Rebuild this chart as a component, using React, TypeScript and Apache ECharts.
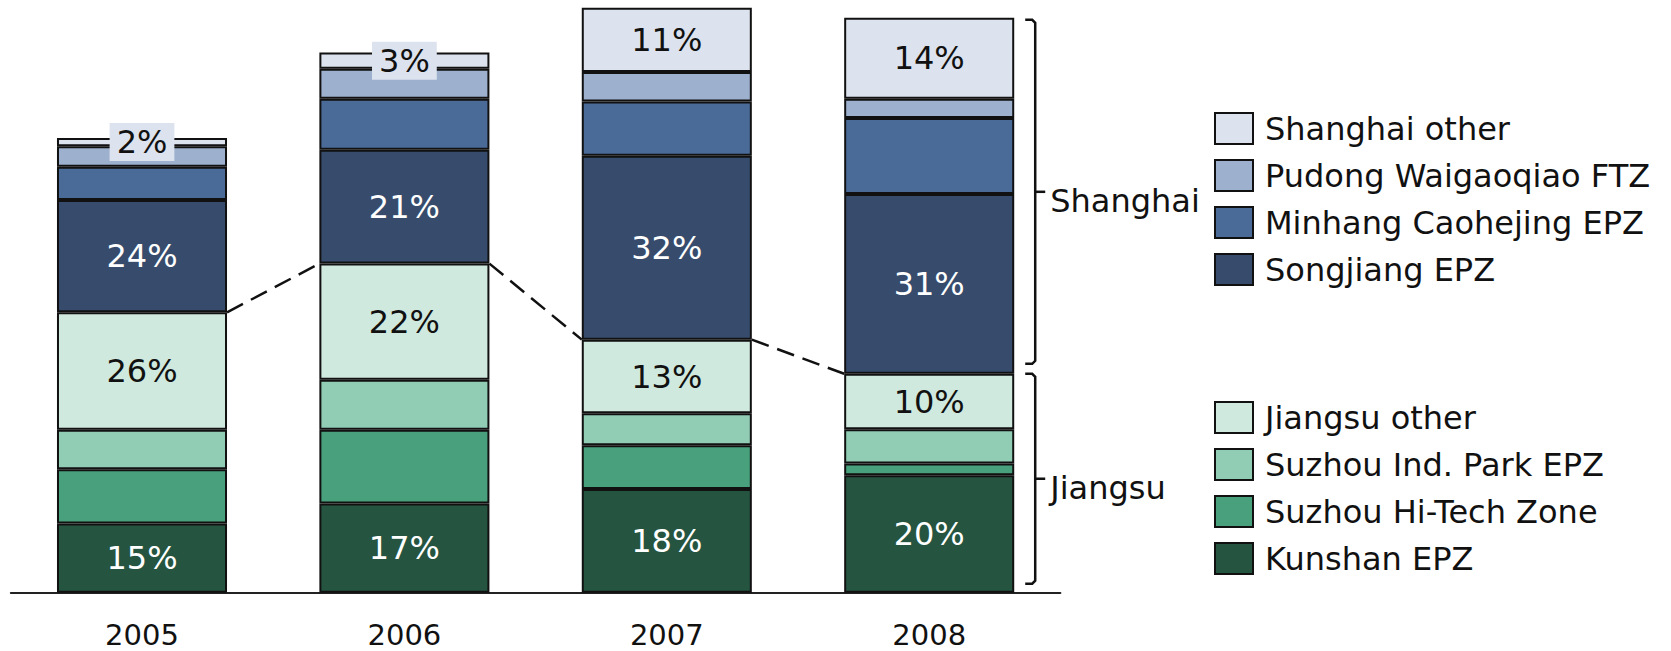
import React, { useEffect, useRef } from "react";
import * as echarts from "echarts";

const years = ["2005", "2006", "2007", "2008"];

// Absolute volumes (index, 2005 total ≈ 100)
const kunshan = [15.2, 19.6, 22.8, 25.8];
const suzhouHiTech = [11.9, 16.2, 9.6, 2.6];
const suzhouIndPark = [8.7, 11.0, 7.0, 7.5];
const jiangsuOther = [25.8, 25.5, 16.2, 12.2];
const songjiang = [24.7, 25.0, 40.4, 39.5];
const minhang = [7.3, 11.2, 11.9, 16.7];
const pudong = [4.5, 6.6, 6.5, 4.2];
const shanghaiOther = [1.8, 3.6, 14.1, 17.8];

// Share labels printed on the bars (%)
const kunshanPct = [15, 17, 18, 20];
const jiangsuOtherPct = [26, 22, 13, 10];
const songjiangPct = [24, 21, 32, 31];
const shanghaiOtherPct = [2, 3, 11, 14];

const shanghaiLegend = ["Shanghai other", "Pudong Waigaoqiao FTZ", "Minhang Caohejing EPZ", "Songjiang EPZ"];
const jiangsuLegend = ["Jiangsu other", "Suzhou Ind. Park EPZ", "Suzhou Hi-Tech Zone", "Kunshan EPZ"];

const FONT = "DejaVu Sans";
const INK = "#111111";
const BAR_RATIO = 0.648;

const COLORS = {
  kunshan: "#255441",
  hitech: "#48a07c",
  indpark: "#90cdb4",
  jother: "#d0e9de",
  songjiang: "#374c6d",
  minhang: "#4a6a98",
  pudong: "#9db0ce",
  shother: "#dde3ee",
};

function barSeries(name: string, data: number[], color: string, labels: number[] | null, labelColor: string, bg?: string) {
  return {
    type: "bar",
    name,
    stack: "total",
    data,
    barWidth: BAR_RATIO * 100 + "%",
    itemStyle: { color, borderColor: INK, borderWidth: 2 },
    label: labels
      ? {
          show: true,
          position: "inside",
          formatter: (p: any) => labels[p.dataIndex] + "%",
          fontFamily: FONT,
          fontSize: 32,
          color: labelColor,
          backgroundColor: bg,
          padding: bg ? [3, 7] : 0,
        }
      : { show: false },
    emphasis: { disabled: true },
  };
}

export default function App() {
  const ref = useRef<HTMLDivElement>(null);

  useEffect(() => {
    if (!ref.current) return;
    const chart = echarts.init(ref.current, null, { renderer: "svg" });

    const jiangsuTotals = years.map((_, i) => kunshan[i] + suzhouHiTech[i] + suzhouIndPark[i] + jiangsuOther[i]);
    const connectors = years.slice(0, -1).map((_, i) => [i, jiangsuTotals[i], jiangsuTotals[i + 1]]);

    const legendCommon = {
      orient: "vertical",
      left: 1214,
      itemWidth: 38,
      itemHeight: 31,
      itemGap: 14,
      padding: 0,
      icon: "rect",
      selectedMode: false,
      itemStyle: { borderColor: INK, borderWidth: 2 },
      textStyle: { fontFamily: FONT, fontSize: 32, color: INK, padding: [0, 0, 0, 7] },
    };

    chart.setOption({
      animation: false,
      textStyle: { fontFamily: FONT },
      grid: { left: 10.8, right: 610.6, top: 1, bottom: 58.3, containLabel: false },
      legend: [
        { ...legendCommon, top: 112, data: shanghaiLegend },
        { ...legendCommon, top: 401, data: jiangsuLegend },
      ],
      xAxis: {
        type: "category",
        data: years,
        axisLine: { lineStyle: { color: "#222", width: 2 } },
        axisTick: { show: false },
        axisLabel: { fontFamily: FONT, fontSize: 29, color: INK, margin: 28 },
      },
      yAxis: { type: "value", min: 0, max: 130, show: false, splitLine: { show: false } },
      series: [
        barSeries("Kunshan EPZ", kunshan, COLORS.kunshan, kunshanPct, "#ffffff"),
        barSeries("Suzhou Hi-Tech Zone", suzhouHiTech, COLORS.hitech, null, INK),
        barSeries("Suzhou Ind. Park EPZ", suzhouIndPark, COLORS.indpark, null, INK),
        barSeries("Jiangsu other", jiangsuOther, COLORS.jother, jiangsuOtherPct, INK),
        barSeries("Songjiang EPZ", songjiang, COLORS.songjiang, songjiangPct, "#ffffff"),
        barSeries("Minhang Caohejing EPZ", minhang, COLORS.minhang, null, INK),
        barSeries("Pudong Waigaoqiao FTZ", pudong, COLORS.pudong, null, INK),
        barSeries("Shanghai other", shanghaiOther, COLORS.shother, shanghaiOtherPct, INK, COLORS.shother),
        {
          type: "custom",
          name: "connector",
          data: connectors,
          encode: { x: 0, y: [1, 2] },
          silent: true,
          z: 5,
          renderItem: (params: any, api: any) => {
            const i = api.value(0);
            const p1 = api.coord([i, api.value(1)]);
            const p2 = api.coord([i + 1, api.value(2)]);
            const half = (api.size([1, 0])[0] * BAR_RATIO) / 2;
            return {
              type: "line",
              shape: { x1: p1[0] + half, y1: p1[1], x2: p2[0] - half, y2: p2[1] },
              style: { stroke: INK, lineWidth: 2.5, lineDash: [18, 9] },
            };
          },
        },
      ],
    });

    // Brackets beside the last bar, positioned through the axis scales
    const last = years.length - 1;
    const c0 = chart.convertToPixel({ gridIndex: 0 }, [0, 0]) as number[];
    const c1 = chart.convertToPixel({ gridIndex: 0 }, [1, 0]) as number[];
    const half = ((c1[0] - c0[0]) * BAR_RATIO) / 2;
    const total = jiangsuTotals[last] + songjiang[last] + minhang[last] + pudong[last] + shanghaiOther[last];
    const pBase = chart.convertToPixel({ gridIndex: 0 }, [last, 0]) as number[];
    const pSplit = chart.convertToPixel({ gridIndex: 0 }, [last, jiangsuTotals[last]]) as number[];
    const pTop = chart.convertToPixel({ gridIndex: 0 }, [last, total]) as number[];
    const bx = pBase[0] + half + 21;

    const bracket = (top: number, bottom: number, label: string) => {
      const mid = (top + bottom) / 2;
      return [
        {
          type: "polyline",
          shape: {
            points: [
              [bx - 10, top],
              [bx - 3, top],
              [bx, top + 3],
              [bx, bottom - 3],
              [bx - 3, bottom],
              [bx - 10, bottom],
            ],
          },
          style: { stroke: INK, lineWidth: 2.5, fill: "none" },
        },
        { type: "line", shape: { x1: bx, y1: mid, x2: bx + 10, y2: mid }, style: { stroke: INK, lineWidth: 2.5 } },
        {
          type: "text",
          x: bx + 15,
          y: mid + 9,
          style: { text: label, fontFamily: FONT, fontSize: 32, fill: INK, verticalAlign: "middle", align: "left" },
        },
      ];
    };

    chart.setOption({
      graphic: [...bracket(pTop[1] + 2, pSplit[1] - 10, "Shanghai"), ...bracket(pSplit[1], pBase[1] - 9, "Jiangsu")],
    });

    return () => chart.dispose();
  }, []);

  return <div ref={ref} style={{ position: "fixed", left: 0, top: 0, width: 1671, height: 651, background: "#fff" }} />;
}
